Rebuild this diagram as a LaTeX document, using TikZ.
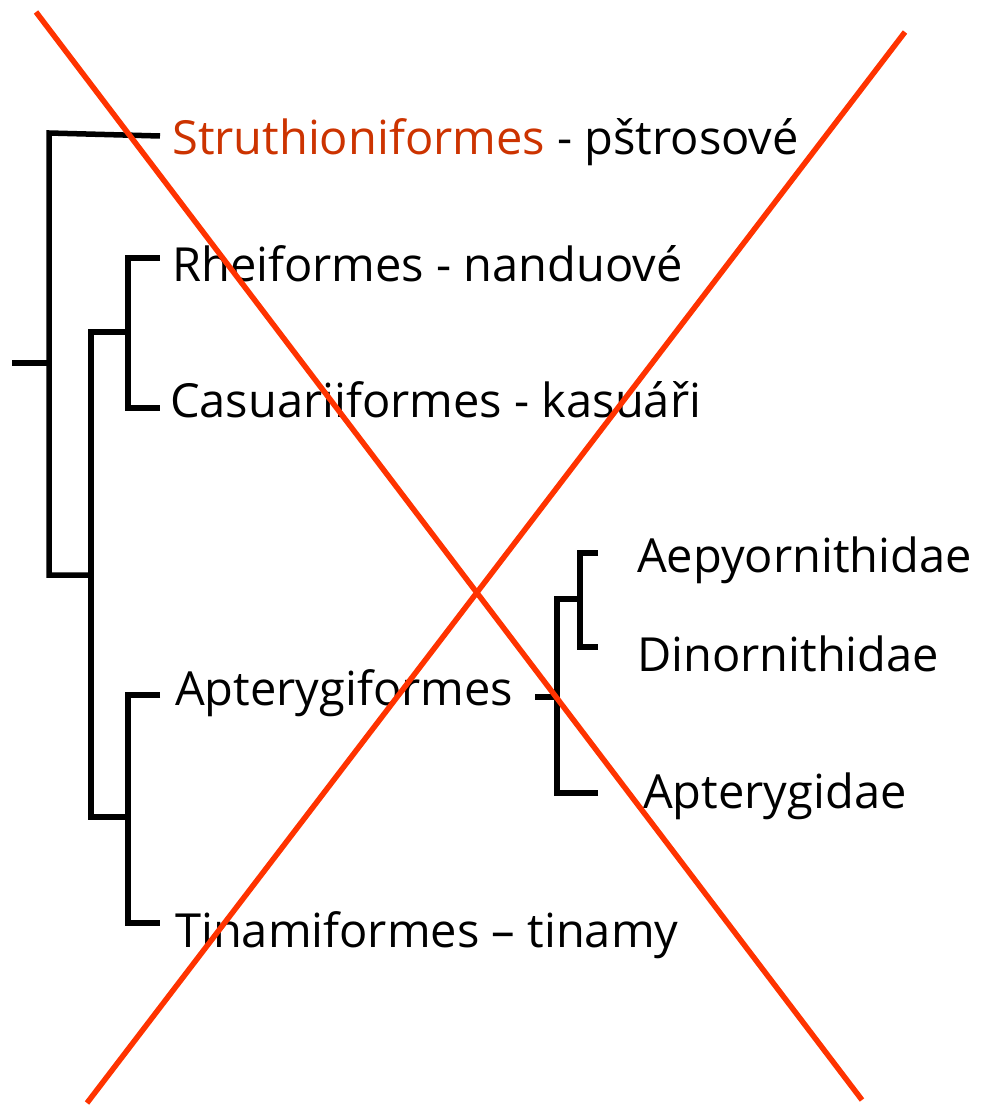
\documentclass[tikz,border=0pt]{standalone}
\usepackage{fontspec}
\setmainfont{Open Sans}
\definecolor{crossred}{RGB}{255,51,0}
\definecolor{struthred}{RGB}{204,51,0}
\begin{document}
\begin{tikzpicture}[x=1pt,y=-1pt,
  lab/.style={anchor=base west,inner sep=0pt,font=\fontsize{47}{56}\selectfont},
  branch/.style={line width=5.5pt,line join=miter,black},
  cross/.style={line width=5.5pt,crossred}]
\useasboundingbox (0,0) rectangle (980,1105);
% labels
\node[lab] (str) at (172,154) {\textcolor{struthred}{Struthioniformes} - pštrosové};
\node[lab] (rhe) at (172,281) {Rheiformes - nanduové};
\node[lab] (cas) at (170,417) {Casuariiformes - kasuáři};
\node[lab] (aep) at (637,572) {Aepyornithidae};
\node[lab] (din) at (637,671) {Dinornithidae};
\node[lab] (apt) at (175,705) {Apterygiformes};
\node[lab] (apd) at (643,808) {Apterygidae};
\node[lab] (tin) at (175,947) {Tinamiformes – tinamy};
% joints
\coordinate (r0) at (12,363);
\coordinate (r1) at (49,363);
\coordinate (a1) at (160,136);
\coordinate (a2) at (49,133);
\coordinate (a3) at (49,575);
\coordinate (a4) at (91,575);
\coordinate (b1) at (128,332);
\coordinate (b2) at (91,332);
\coordinate (b3) at (91,817);
\coordinate (b4) at (128,817);
\coordinate (c1) at (160,258);
\coordinate (c2) at (128,258);
\coordinate (c3) at (128,408);
\coordinate (c4) at (160,408);
\coordinate (d1) at (160,695);
\coordinate (d2) at (128,695);
\coordinate (d3) at (128,923);
\coordinate (d4) at (160,923);
\coordinate (e0) at (535,697);
\coordinate (e1) at (557,697);
\coordinate (f1) at (598,793);
\coordinate (f2) at (557,793);
\coordinate (f3) at (557,599);
\coordinate (f4) at (580,599);
\coordinate (g1) at (598,553);
\coordinate (g2) at (580,553);
\coordinate (g3) at (580,647);
\coordinate (g4) at (598,647);
% tree
\draw[branch] (r0) -- (r1);
\draw[branch] (a1) -- (a2) -- (a3) -- (a4);
\draw[branch] (b1) -- (b2) -- (b3) -- (b4);
\draw[branch] (c1) -- (c2) -- (c3) -- (c4);
\draw[branch] (d1) -- (d2) -- (d3) -- (d4);
\draw[branch] (e0) -- (e1);
\draw[branch] (f1) -- (f2) -- (f3) -- (f4);
\draw[branch] (g1) -- (g2) -- (g3) -- (g4);
% cross
\coordinate (x1a) at (36,12);
\coordinate (x1b) at (862,1100);
\coordinate (x2a) at (905,32);
\coordinate (x2b) at (87,1103);
\draw[cross] (x1a) -- (x1b);
\draw[cross] (x2a) -- (x2b);
\end{tikzpicture}
\end{document}
